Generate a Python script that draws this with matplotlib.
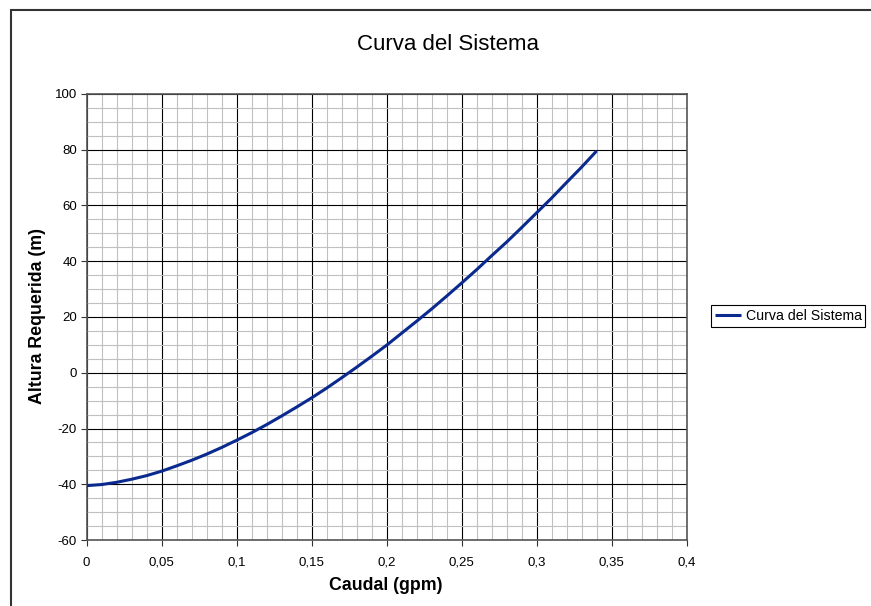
import matplotlib
matplotlib.use('Agg')
import matplotlib.pyplot as plt
from matplotlib.patches import Rectangle
from matplotlib.ticker import MultipleLocator, FuncFormatter

plt.rcParams['font.family'] = ['Liberation Sans', 'DejaVu Sans']
plt.rcParams['axes.unicode_minus'] = False

# caudal (gpm) y altura requerida (m)
caudal = [0.00, 0.01, 0.02, 0.03, 0.04, 0.05, 0.06, 0.07, 0.08, 0.09,
          0.10, 0.11, 0.12, 0.13, 0.14, 0.15, 0.16, 0.17, 0.18, 0.19,
          0.20, 0.21, 0.22, 0.23, 0.24, 0.25, 0.26, 0.27, 0.28, 0.29,
          0.30, 0.31, 0.32, 0.33, 0.34]
altura = [-40.5, -40.1, -39.3, -38.2, -36.9, -35.3, -33.4, -31.4, -29.2, -26.8,
          -24.2, -21.5, -18.6, -15.5, -12.3, -9.0, -5.5, -1.8, 2.0, 5.9,
          9.9, 14.2, 18.5, 22.9, 27.5, 32.2, 37.0, 42.0, 46.9, 52.1,
          57.4, 62.7, 68.3, 73.8, 79.6]

fig = plt.figure(figsize=(8.71, 6.06), dpi=100)
ax = fig.add_axes([0.0995, 0.1089, 0.6889, 0.736])

ax.plot(caudal, altura, color='#0b2a8f', lw=2.2, label='Curva del Sistema',
        solid_capstyle='butt', zorder=3)

ax.set_xlim(0, 0.4)
ax.set_ylim(-60, 100)
ax.xaxis.set_major_locator(MultipleLocator(0.05))
ax.xaxis.set_minor_locator(MultipleLocator(0.01))
ax.yaxis.set_major_locator(MultipleLocator(20))
ax.yaxis.set_minor_locator(MultipleLocator(5))

def coma(v, pos):
    s = ('%.2f' % v).rstrip('0').rstrip('.')
    return s.replace('.', ',')

ax.xaxis.set_major_formatter(FuncFormatter(coma))
ax.grid(which='minor', color='#c0c0c0', lw=0.8, zorder=0)
ax.grid(which='major', color='black', lw=0.8, zorder=1)
ax.set_axisbelow(True)
ax.tick_params(which='major', length=4, width=0.8, labelsize=9.5, color='#333333', pad=8)
ax.tick_params(axis='y', pad=3)
ax.tick_params(which='minor', length=0)
for s in ax.spines.values():
    s.set_color('#555555')
    s.set_linewidth(1.2)

fig.text(386 / 871, 1 - 586 / 606, 'Caudal (gpm)', fontsize=12.8, fontweight='bold',
         ha='center', va='center')
fig.text(37 / 871, 1 - 316 / 606, 'Altura Requerida (m)', fontsize=12.8,
         fontweight='bold', ha='center', va='center', rotation=90)
fig.text(448 / 871, 1 - 44 / 606, 'Curva del Sistema', fontsize=16,
         ha='center', va='center')

leg = ax.legend(loc='center left', bbox_to_anchor=(711 / 871, 1 - 316 / 606),
                bbox_transform=fig.transFigure, fontsize=10.2, frameon=True,
                fancybox=False, framealpha=1, edgecolor='black',
                borderpad=0.25, handlelength=1.9, handletextpad=0.3,
                borderaxespad=0)
leg.get_frame().set_linewidth(0.8)

fig.patches.append(Rectangle((11 / 871, -0.05), 1.2, 1 - 10 / 606 + 0.05,
                             transform=fig.transFigure, fill=False,
                             edgecolor='#333333', lw=1.5))

fig.savefig('out.png', dpi=100)
